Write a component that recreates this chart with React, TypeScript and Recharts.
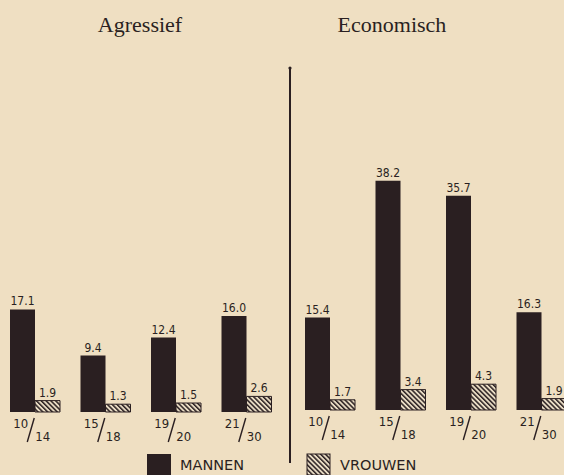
import React from 'react';
import { BarChart, Bar, XAxis, YAxis, LabelList } from 'recharts';

const categories = ['10/14', '15/18', '19/20', '21/30'];
const aggMen = [17.1, 9.4, 12.4, 16.0];
const aggWomen = [1.9, 1.3, 1.5, 2.6];
const ecoMen = [15.4, 38.2, 35.7, 16.3];
const ecoWomen = [1.7, 3.4, 4.3, 1.9];
const panelTitles = ['Agressief', 'Economisch'];
const legendLabels = ['MANNEN', 'VROUWEN'];

const BG = '#efdfc2';
const INK = '#2a1f21';
const HAND = "'DejaVu Sans Condensed', 'DejaVu Sans', sans-serif";

const build = (men: number[], women: number[]) =>
  categories.map((c, i) => ({ cat: c, men: men[i], women: women[i] }));

const aggData = build(aggMen, aggWomen);
const ecoData = build(ecoMen, ecoWomen);

const FracTick = (props: any) => {
  const { x, y, payload } = props;
  const [a, b] = String(payload.value).split('/');
  return (
    <g fill={INK} fontFamily={HAND} style={{ fontStretch: 'condensed' }}>
      <text x={x - 7} y={y + 16} textAnchor="end" fontSize={13}>{a}</text>
      <line x1={x - 8} y1={y + 30} x2={x - 1} y2={y + 6} stroke={INK} strokeWidth={1.4} />
      <text x={x} y={y + 29} textAnchor="start" fontSize={13}>{b}</text>
    </g>
  );
};

const fmt = (v: any) => Number(v).toFixed(1);

const Panel = ({ data, left, baseline }: { data: any[]; left: number; baseline: number }) => {
  const height = 475;
  const top = baseline - 40 * 6;
  return (
    <div style={{ position: 'absolute', left, top: 0 }}>
      <BarChart
        width={282}
        height={height}
        data={data}
        margin={{ top, right: 0, bottom: 0, left: 0 }}
        barGap={0}
        barSize={25}
      >
        <XAxis
          dataKey="cat"
          axisLine={false}
          tickLine={false}
          tickSize={0}
          tickMargin={0}
          height={height - baseline}
          tick={<FracTick />}
          interval={0}
        />
        <YAxis hide domain={[0, 40]} />
        <Bar dataKey="men" fill={INK} isAnimationActive={false}>
          <LabelList
            dataKey="men"
            position="top"
            offset={4}
            formatter={fmt}
            style={{ fill: INK, fontSize: 12, fontFamily: HAND, fontStretch: 'condensed' }}
          />
        </Bar>
        <Bar dataKey="women" fill="url(#hatch)" stroke={INK} strokeWidth={1} isAnimationActive={false}>
          <LabelList
            dataKey="women"
            position="top"
            offset={4}
            formatter={fmt}
            style={{ fill: INK, fontSize: 12, fontFamily: HAND, fontStretch: 'condensed', stroke: 'none' }}
          />
        </Bar>
      </BarChart>
    </div>
  );
};

export default function App() {
  return (
    <div
      style={{
        position: 'fixed',
        left: 0,
        top: 0,
        width: 564,
        height: 475,
        overflow: 'hidden',
        background: BG,
      }}
    >
      <svg width={0} height={0} style={{ position: 'absolute' }}>
        <defs>
          <pattern id="hatch" width={3.4} height={3.4} patternUnits="userSpaceOnUse" patternTransform="rotate(-45)">
            <rect width={3.4} height={3.4} fill="#e9dcc4" />
            <rect width={1.5} height={3.4} fill={INK} />
          </pattern>
        </defs>
      </svg>

      <div style={{ position: 'absolute', left: 40, top: 12, width: 200, textAlign: 'center', fontFamily: "'Liberation Serif', serif", fontSize: 22, color: INK }}>
        {panelTitles[0]}
      </div>
      <div style={{ position: 'absolute', left: 292, top: 12, width: 200, textAlign: 'center', fontFamily: "'Liberation Serif', serif", fontSize: 22, color: INK }}>
        {panelTitles[1]}
      </div>

      <Panel data={aggData} left={0} baseline={412} />
      <Panel data={ecoData} left={295} baseline={410} />

      <svg width={564} height={475} style={{ position: 'absolute', left: 0, top: 0, pointerEvents: 'none' }}>
        <line x1={290} y1={68} x2={290} y2={463} stroke={INK} strokeWidth={2} />
        <circle cx={290} cy={68} r={1.6} fill={INK} />
        <rect x={147} y={454} width={24} height={21} fill={INK} />
        <text x={180} y={470} fontSize={14.5} fontFamily="'DejaVu Sans', sans-serif" fill={INK}>{legendLabels[0]}</text>
        <rect x={307} y={454} width={23} height={21} fill="url(#hatch)" stroke={INK} strokeWidth={1} />
        <text x={340} y={470} fontSize={14.5} fontFamily="'DejaVu Sans', sans-serif" fill={INK}>{legendLabels[1]}</text>
      </svg>
    </div>
  );
}
